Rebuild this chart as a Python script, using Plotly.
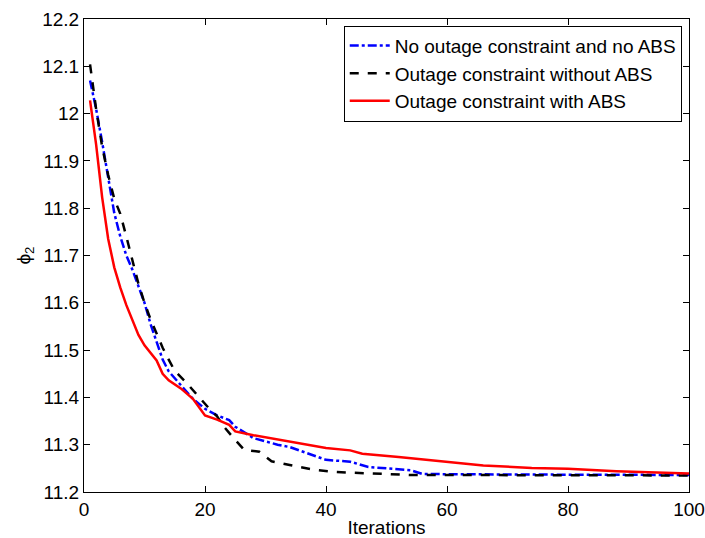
import plotly.graph_objects as go

# Series readings (iteration, phi_2)
red_x = [1, 2, 3, 4, 5, 6, 7, 8, 9, 10, 11, 12, 13, 14, 16, 18, 20, 22, 24, 25, 28, 33, 37, 40, 44, 46, 52, 60, 66, 74, 80, 88, 100]
red_y = [12.028, 11.935, 11.823, 11.735, 11.675, 11.632, 11.595, 11.562, 11.532, 11.51, 11.493, 11.478, 11.45, 11.436,
         11.419, 11.397, 11.362, 11.353, 11.342, 11.328, 11.32, 11.309, 11.30, 11.293, 11.288, 11.281, 11.274, 11.263,
         11.256, 11.251, 11.249, 11.244, 11.239]

blue_x = [1, 2, 3, 4, 5, 6, 7, 8, 9, 10, 11, 12, 13, 14, 16, 18, 20, 22, 24, 25, 28, 32, 34, 37, 40, 44, 47, 54, 56, 70, 100]
blue_y = [12.07, 12.01, 11.94, 11.86, 11.79, 11.74, 11.70, 11.67, 11.635, 11.60, 11.555, 11.515, 11.48, 11.455,
          11.425, 11.397, 11.376, 11.362, 11.352, 11.338, 11.314, 11.30, 11.295, 11.281, 11.268, 11.264, 11.253,
          11.246, 11.238, 11.237, 11.236]

black_x = [1, 2, 3, 4, 5, 6, 7, 8, 9, 10, 11, 12, 13, 14, 15, 17, 19, 21, 22, 23, 25, 26.5, 29, 31, 34, 38, 41, 44, 54, 100]
black_y = [12.104, 12.01, 11.93, 11.87, 11.82, 11.788, 11.74, 11.69, 11.64, 11.60, 11.565, 11.535, 11.505, 11.48,
           11.456, 11.43, 11.40, 11.372, 11.36, 11.34, 11.31, 11.289, 11.285, 11.265, 11.257, 11.247, 11.243, 11.241,
           11.236, 11.235]

names = ["No outage constraint and no ABS", "Outage constraint without ABS", "Outage constraint with ABS"]

y_tickvals = [11.2, 11.3, 11.4, 11.5, 11.6, 11.7, 11.8, 11.9, 12.0, 12.1, 12.2]
y_ticktext = ["11.2", "11.3", "11.4", "11.5", "11.6", "11.7", "11.8", "11.9", "12", "12.1", "12.2"]
x_tickvals = [0, 20, 40, 60, 80, 100]

FONT = "Liberation Sans, Arial, Helvetica, sans-serif"

fig = go.Figure()
fig.add_trace(go.Scatter(x=blue_x, y=blue_y, mode="lines", name=names[0],
                         line=dict(color="#0000ff", width=2.5, dash="dashdot")))
fig.add_trace(go.Scatter(x=black_x, y=black_y, mode="lines", name=names[1],
                         line=dict(color="#000000", width=2.5, dash="dash")))
fig.add_trace(go.Scatter(x=red_x, y=red_y, mode="lines", name=names[2],
                         line=dict(color="#ff0000", width=2.5)))

axis_common = dict(showline=True, linecolor="black", linewidth=1, mirror="allticks",
                   ticks="inside", ticklen=6, tickcolor="black", showgrid=False, zeroline=False,
                   automargin=False,
                   tickfont=dict(family=FONT, size=19, color="black"))

fig.update_xaxes(range=[0, 100], tickvals=x_tickvals,
                 title=dict(text="Iterations", font=dict(family=FONT, size=19, color="black")),
                 **axis_common)
fig.update_yaxes(range=[11.2, 12.2], tickvals=y_tickvals, ticktext=y_ticktext,
                 title=dict(text="ϕ<sub>2</sub>", font=dict(family=FONT, size=19, color="black"), standoff=6),
                 **axis_common)

fig.update_layout(
    width=705, height=538,
    margin=dict(l=84, r=16, t=19, b=46),
    paper_bgcolor="white", plot_bgcolor="white",
    showlegend=True,
    legend=dict(x=0.988, y=0.986, xanchor="right", yanchor="top",
                bgcolor="white", bordercolor="black", borderwidth=1,
                font=dict(family=FONT, size=19, color="black"),
                tracegroupgap=0, itemwidth=40),
)

fig.write_html("out.html")
